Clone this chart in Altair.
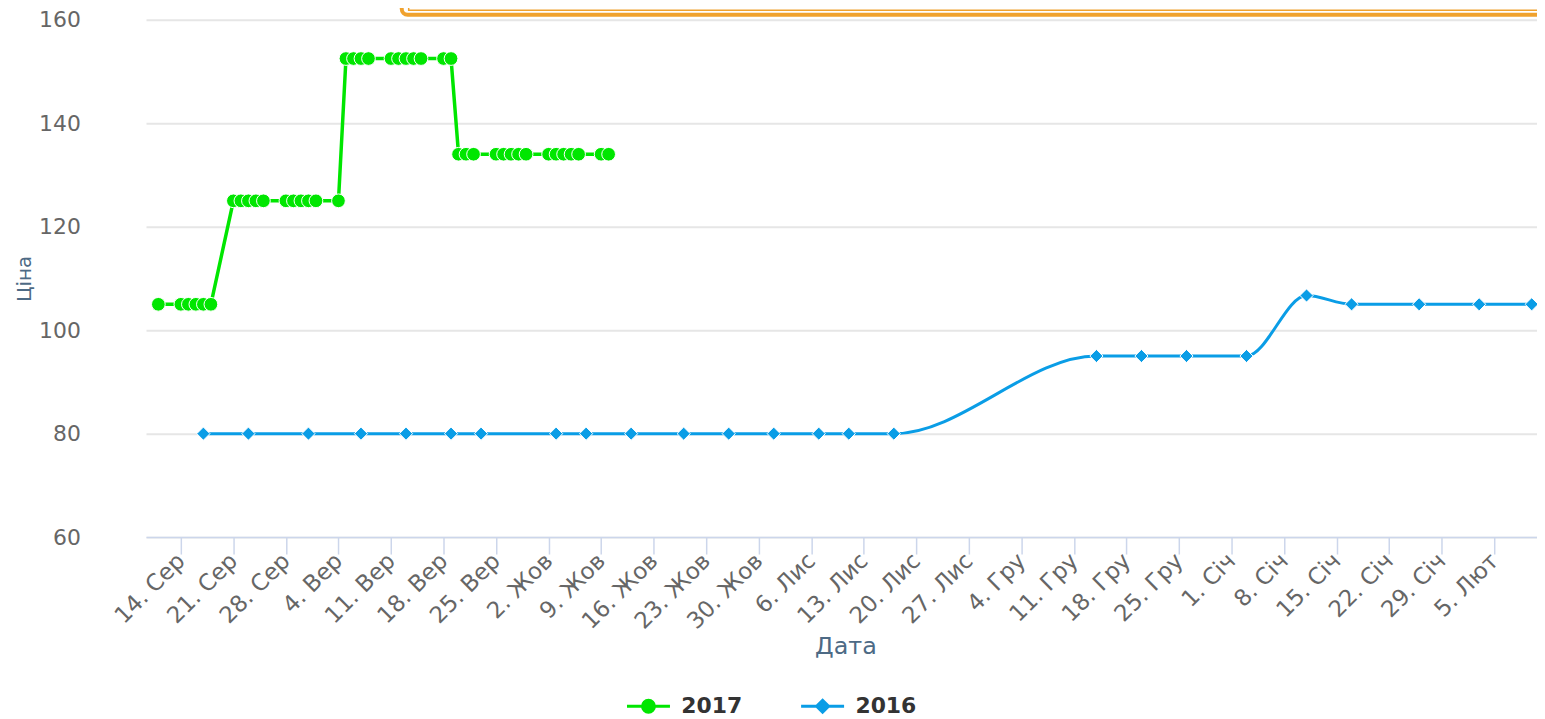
import altair as alt
import pandas as pd
from datetime import date

# ---------------- data ----------------
series_names = ["2017", "2016"]
series_colors = ["#00e600", "#0a9de6"]

months_uk = ["Січ", "Лют", "Бер", "Кві", "Тра", "Чер", "Лип", "Сер", "Вер", "Жов", "Лис", "Гру"]

# 2017 season (daily, working days)
dates_2017 = [
    "2017-08-11",
    "2017-08-14", "2017-08-15", "2017-08-16", "2017-08-17", "2017-08-18",
    "2017-08-21", "2017-08-22", "2017-08-23", "2017-08-24", "2017-08-25",
    "2017-08-28", "2017-08-29", "2017-08-30", "2017-08-31", "2017-09-01",
    "2017-09-04",
    "2017-09-05", "2017-09-06", "2017-09-07", "2017-09-08",
    "2017-09-11", "2017-09-12", "2017-09-13", "2017-09-14", "2017-09-15",
    "2017-09-18", "2017-09-19",
    "2017-09-20", "2017-09-21", "2017-09-22",
    "2017-09-25", "2017-09-26", "2017-09-27", "2017-09-28", "2017-09-29",
    "2017-10-02", "2017-10-03", "2017-10-04", "2017-10-05", "2017-10-06",
    "2017-10-09", "2017-10-10",
]
prices_2017 = [
    105,
    105, 105, 105, 105, 105,
    125, 125, 125, 125, 125,
    125, 125, 125, 125, 125,
    125,
    152.5, 152.5, 152.5, 152.5,
    152.5, 152.5, 152.5, 152.5, 152.5,
    152.5, 152.5,
    134, 134, 134,
    134, 134, 134, 134, 134,
    134, 134, 134, 134, 134,
    134, 134,
]

# 2016 season, placed on the same calendar axis
dates_2016 = [
    "2017-08-17", "2017-08-23", "2017-08-31", "2017-09-07", "2017-09-13",
    "2017-09-19", "2017-09-23", "2017-10-03", "2017-10-07", "2017-10-13",
    "2017-10-20", "2017-10-26", "2017-11-01", "2017-11-07", "2017-11-11",
    "2017-11-17", "2017-12-14", "2017-12-20", "2017-12-26", "2018-01-03",
    "2018-01-11", "2018-01-17", "2018-01-26", "2018-02-03", "2018-02-10",
]
prices_2016 = [
    80, 80, 80, 80, 80,
    80, 80, 80, 80, 80,
    80, 80, 80, 80, 80,
    80, 95, 95, 95, 95,
    106.7, 105, 105, 105, 105,
]

# weekly tick marks (Mondays)
tick_dates = [
    "2017-08-14", "2017-08-21", "2017-08-28", "2017-09-04", "2017-09-11",
    "2017-09-18", "2017-09-25", "2017-10-02", "2017-10-09", "2017-10-16",
    "2017-10-23", "2017-10-30", "2017-11-06", "2017-11-13", "2017-11-20",
    "2017-11-27", "2017-12-04", "2017-12-11", "2017-12-18", "2017-12-25",
    "2018-01-01", "2018-01-08", "2018-01-15", "2018-01-22", "2018-01-29",
    "2018-02-05",
]
y_ticks = [60, 80, 100, 120, 140, 160]

# ---------------- frames ----------------
df17 = pd.DataFrame({"date": dates_2017, "price": prices_2017, "series": series_names[0]})
df16 = pd.DataFrame({"date": dates_2016, "price": prices_2016, "series": series_names[1]})


def dt(s, h=0, m=0):
    d = date.fromisoformat(s)
    return alt.DateTime(year=d.year, month=d.month, date=d.day, hours=h, minutes=m, utc=True)


FONT = "DejaVu Sans"
label_expr = ("utcdate(datum.value) + '. ' + ["
              + ",".join("'%s'" % m for m in months_uk)
              + "][utcmonth(datum.value)]")

x_axis = alt.Axis(
    values=[dt(t) for t in tick_dates],
    labelExpr=label_expr,
    labelAngle=315, labelAlign="right", labelBaseline="middle",
    labelPadding=3, labelOverlap=False, labelFlush=False, labelBound=False,
    labelFont=FONT, labelFontSize=23, labelColor="#666666",
    tickSize=17, tickColor="#ccd6eb", tickWidth=1.5,
    domainColor="#ccd6eb", domainWidth=1.5, grid=False,
    title="Дата", titleFont=FONT, titleFontSize=24, titleFontWeight="normal",
    titleColor="#4d6a85", titleX=703, titleY=110,
    titleAlign="center", titleBaseline="middle",
)
y_axis = alt.Axis(
    values=y_ticks, domain=False, ticks=False, labelPadding=66,
    labelFont=FONT, labelFontSize=22, labelColor="#666666",
    grid=True, gridColor="#e6e6e6", gridWidth=2,
    title="Ціна", titleFont=FONT, titleFontSize=20, titleFontWeight="normal",
    titleColor="#4d6a85", titleX=-122, titleY=260, titleAngle=270,
    titleAlign="center", titleBaseline="middle",
)

x_scale = alt.Scale(type="utc", domain=[dt("2017-08-09", 8, 30), dt("2018-02-10", 17, 0)])
y_scale = alt.Scale(domain=[60, 160], nice=False, zero=False)

legend_shape = ("datum.value === '2017' ? "
                "'M-3.6,0L3.6,0M-1,0A1,1,0,1,0,1,0A1,1,0,1,0,-1,0Z' : "
                "'M-3.6,0L3.6,0M0,-1L1,0L0,1L-1,0Z'")
legend = alt.Legend(
    title=None, orient="none", legendX=494, legendY=679,
    direction="horizontal", columns=2, columnPadding=52,
    labelOffset=22, symbolSize=144, padding=0,
    symbolType=alt.ExprRef(expr=legend_shape),
    symbolStrokeColor=alt.ExprRef(expr="scale('color', datum.value)"),
    symbolFillColor=alt.ExprRef(expr="scale('color', datum.value)"),
    symbolStrokeWidth=3, symbolOpacity=1,
    labelFont=FONT, labelFontSize=22, labelFontWeight="bold", labelColor="#333333",
)

color = alt.Color("series:N", scale=alt.Scale(domain=series_names, range=series_colors), legend=legend)
X = alt.X("date:T", scale=x_scale, axis=x_axis)
Y = alt.Y("price:Q", scale=y_scale, axis=y_axis)

line17 = alt.Chart(df17).mark_line(strokeWidth=3.5, interpolate="linear").encode(x=X, y=Y, color=color)
pts17 = alt.Chart(df17).mark_point(filled=True, shape="circle", size=190, stroke="white",
                                   strokeWidth=1, opacity=1).encode(x=X, y=Y, color=color)
line16 = alt.Chart(df16).mark_line(strokeWidth=3, interpolate="monotone").encode(x=X, y=Y, color=color)
pts16 = alt.Chart(df16).mark_point(filled=True, shape="diamond", size=175, stroke="white",
                                   strokeWidth=1, opacity=1).encode(x=X, y=Y, color=color)

one = pd.DataFrame({"k": [0]})
box_outer = alt.Chart(one).mark_rect(filled=False, stroke="#f0a22e", strokeWidth=4, cornerRadius=6, clip=False).encode(
    x=alt.value(257), x2=alt.value(1420), y=alt.value(-60), y2=alt.value(-5))
box_inner = alt.Chart(one).mark_rect(filled=False, stroke="#f0a22e", strokeWidth=1.5, clip=False).encode(
    x=alt.value(264), x2=alt.value(1420), y=alt.value(-60), y2=alt.value(-9.5))

chart = alt.layer(line16, pts16, line17, pts17, box_outer, box_inner).properties(
    width=1398, height=520,
    autosize=alt.AutoSizeParams(type="none"),
    padding={"left": 138.7, "top": 10, "right": 0, "bottom": 180},
    background="white",
).configure(font=FONT).configure_view(stroke=None)

chart.save("out.html", embed_options={"renderer": "svg", "actions": False})
